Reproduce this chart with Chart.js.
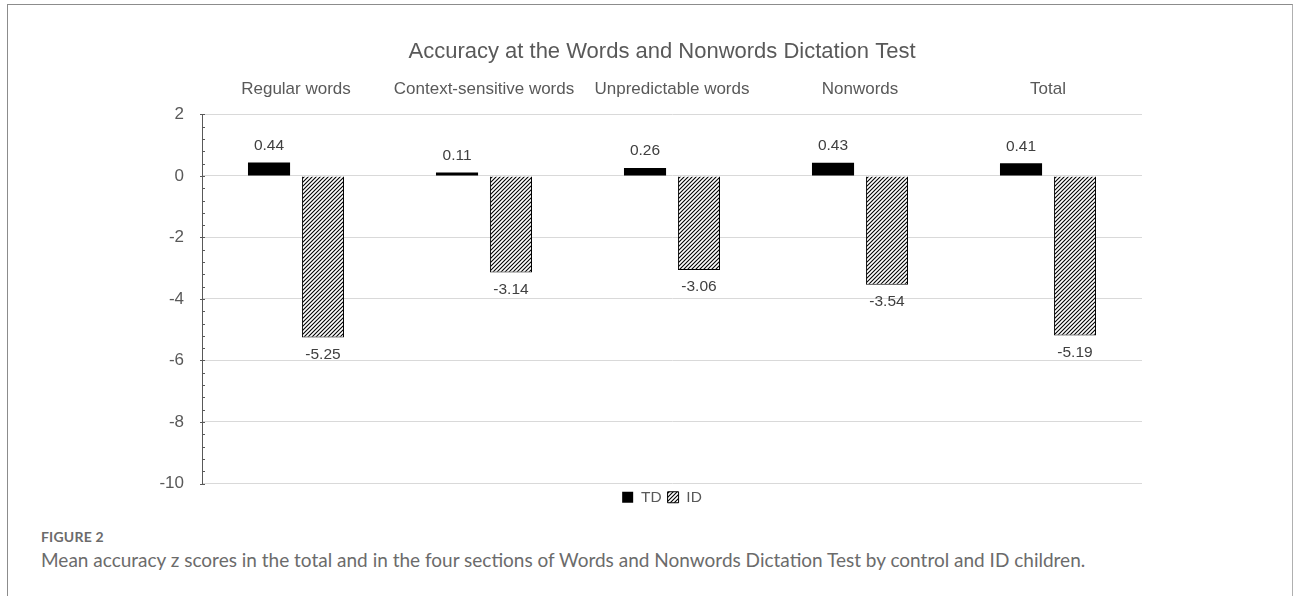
<!DOCTYPE html>
<html lang="en">
<head>
    <meta charset="UTF-8">
    <title>Accuracy at the Words and Nonwords Dictation Test</title>
    <script src="https://cdn.jsdelivr.net/npm/chart.js"></script>
    <style>
        html, body {
            margin: 0;
            padding: 0;
            background: #fff;
        }

        body {
            width: 1293px;
            height: 596px;
            position: relative;
            overflow: hidden;
        }

        .frame {
            position: absolute;
            left: 7px;
            top: 4px;
            width: 1284px;
            height: 600px;
            border-left: 1px solid #8c8c8c;
            border-top: 1px solid #8c8c8c;
            border-right: 1px solid #b0b0b0;
        }

        .chart-box {
            position: absolute;
            left: 8px;
            top: 5px;
            width: 1283px;
            height: 510px;
        }

        .caption {
            position: absolute;
            left: 41px;
            top: 527px;
            font-family: Lato, "Open Sans", sans-serif;
            color: #6b6b6b;
        }

        .caption .label {
            font-size: 14px;
            font-weight: 700;
            letter-spacing: 0.2px;
            line-height: 20px;
        }

        .caption .text {
            font-size: 19px;
            line-height: 26px;
        }
    </style>
</head>
<body>
    <div class="frame"></div>
    <div class="chart-box">
        <canvas id="dictationChart" width="1283" height="510"></canvas>
    </div>
    <div class="caption">
        <div class="label">FIGURE 2</div>
        <div class="text">Mean accuracy z scores in the total and in the four sections of Words and Nonwords Dictation Test by control and ID children.</div>
    </div>

    <script>
        // values
        const categories = ['Regular words', 'Context-sensitive words', 'Unpredictable words', 'Nonwords', 'Total'];
        const tdScores = [0.44, 0.11, 0.26, 0.43, 0.41];
        const idScores = [-5.25, -3.14, -3.06, -3.54, -5.19];
        const yMin = -10;
        const yMax = 2;
        const yStep = 2;
        const yMinorStep = 0.4;

        const textGrey = '#595959';
        const fontFamily = '"Liberation Sans", Arial, sans-serif';

        // diagonal hatch like the Excel "wide upward diagonal" fill
        function makeHatch() {
            const tile = document.createElement('canvas');
            tile.width = 4;
            tile.height = 4;
            const c = tile.getContext('2d');
            c.fillStyle = '#fff';
            c.fillRect(0, 0, 4, 4);
            c.strokeStyle = '#000';
            c.lineWidth = 1.1;
            c.beginPath();
            c.moveTo(-1, 5); c.lineTo(5, -1);
            c.moveTo(-1, 1); c.lineTo(1, -1);
            c.moveTo(3, 5); c.lineTo(5, 3);
            c.stroke();
            return c.createPattern(tile, 'repeat');
        }
        const hatch = makeHatch();

        // value labels above positive bars, below negative ones
        const valueLabels = {
            id: 'valueLabels',
            afterDatasetsDraw(chart) {
                const ctx = chart.ctx;
                ctx.save();
                ctx.font = '15.5px ' + fontFamily;
                ctx.fillStyle = '#404040';
                ctx.textAlign = 'center';
                ctx.textBaseline = 'middle';
                chart.data.datasets.forEach((ds, i) => {
                    chart.getDatasetMeta(i).data.forEach((bar, j) => {
                        const v = ds.data[j];
                        const y = v >= 0 ? bar.y - 17 : bar.y + 17;
                        ctx.fillText(v.toFixed(2), bar.x, y);
                    });
                });
                ctx.restore();
            }
        };

        // major ticks crossing the axis, minor ticks inside
        const axisTicks = {
            id: 'axisTicks',
            afterDraw(chart) {
                const y = chart.scales.y;
                const x0 = chart.chartArea.left;
                const ctx = chart.ctx;
                ctx.save();
                ctx.strokeStyle = textGrey;
                ctx.lineWidth = 1;
                ctx.beginPath();
                const n = Math.round((yMax - yMin) / yMinorStep);
                for (let k = 0; k <= n; k++) {
                    const v = yMin + k * yMinorStep;
                    const py = Math.round(y.getPixelForValue(v)) + 0.5;
                    const major = Math.abs(v / yStep - Math.round(v / yStep)) < 1e-6;
                    ctx.moveTo(major ? x0 - 2 : x0, py);
                    ctx.lineTo(x0 + 3, py);
                }
                ctx.stroke();
                ctx.restore();
            }
        };

        const dictationChart = new Chart(document.getElementById('dictationChart'), {
            type: 'bar',
            data: {
                labels: categories,
                datasets: [{
                    label: 'TD',
                    data: tdScores,
                    backgroundColor: '#000',
                    borderColor: '#000',
                    borderWidth: 0
                }, {
                    label: 'ID',
                    data: idScores,
                    backgroundColor: hatch,
                    borderColor: '#000',
                    borderWidth: 1
                }]
            },
            options: {
                responsive: false,
                animation: false,
                datasets: {
                    bar: {
                        categoryPercentage: 0.574,
                        barPercentage: 0.78
                    }
                },
                // small left pad so title + legend centre near x=662 like the reference
                layout: {
                    padding: { left: 25, right: 0, top: 0, bottom: 0 }
                },
                plugins: {
                    title: {
                        display: true,
                        text: 'Accuracy at the Words and Nonwords Dictation Test',
                        color: textGrey,
                        font: { family: fontFamily, size: 22, weight: 'normal' },
                        padding: { top: 34, bottom: 0 }
                    },
                    legend: {
                        position: 'bottom',
                        labels: {
                            color: textGrey,
                            font: { family: fontFamily, size: 15.5 },
                            boxWidth: 11,
                            boxHeight: 11,
                            padding: 6
                        }
                    },
                    tooltip: { enabled: false }
                },
                scales: {
                    x: {
                        position: 'top',
                        grid: { display: false, drawTicks: false },
                        border: { display: false },
                        ticks: {
                            color: textGrey,
                            font: { family: fontFamily, size: 17 },
                            padding: 15,
                            maxRotation: 0
                        },
                        afterFit(scale) { scale.height = 49; }
                    },
                    y: {
                        min: yMin,
                        max: yMax,
                        grid: {
                            color: '#d9d9d9',
                            drawTicks: false
                        },
                        border: { color: textGrey },
                        ticks: {
                            stepSize: yStep,
                            color: textGrey,
                            font: { family: fontFamily, size: 17 },
                            padding: 18
                        },
                        afterFit(scale) { scale.width = 169; }
                    },
                    // empty right axis, only reserves the white space right of the plot
                    spacer: {
                        type: 'linear',
                        position: 'right',
                        min: 0,
                        max: 1,
                        grid: { display: false, drawTicks: false },
                        border: { display: false },
                        ticks: { display: false },
                        afterFit(scale) { scale.width = 149; }
                    }
                }
            },
            plugins: [valueLabels, axisTicks]
        });
    </script>
</body>
</html>
